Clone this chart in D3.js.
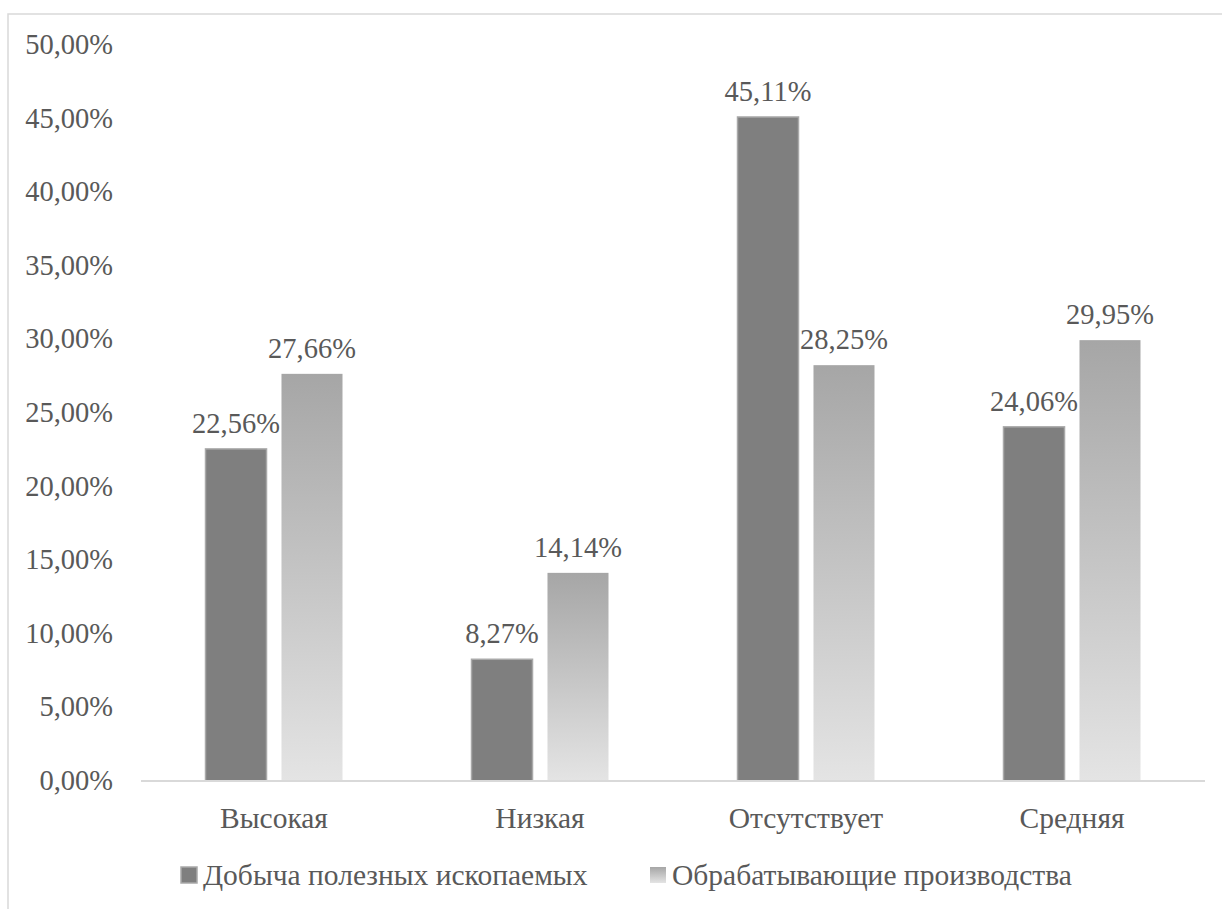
<!DOCTYPE html>
<html>
<head>
<meta charset="utf-8">
<script src="https://cdn.jsdelivr.net/npm/d3@7"></script>
<style>
  html, body { margin: 0; padding: 0; background: #fff; }
  svg { display: block; }
  text { fill: #595959; }
</style>
</head>
<body>
<svg id="chart" width="1222" height="909"></svg>
<script>
// Categories (level of something) and the two series, in percent
const categories = ["Высокая", "Низкая", "Отсутствует", "Средняя"];
const seriesNames = ["Добыча полезных ископаемых", "Обрабатывающие производства"];
const mining = [22.56, 8.27, 45.11, 24.06];
const manufacturing = [27.66, 14.14, 28.25, 29.95];
const yTicks = [0, 5, 10, 15, 20, 25, 30, 35, 40, 45, 50];

const FONT = "'Liberation Serif', 'Times New Roman', Tinos, 'DejaVu Serif', serif";
const FS_NUM = 28.5;   // numeric labels
const FS_TXT = 29.5;   // category names and legend
const fmt = v => v.toFixed(2).replace(".", ",") + "%";

const svg = d3.select("#chart").attr("font-family", FONT);
const W = 1222, H = 909;

// Outer chart frame (extends past the visible canvas on the right and bottom)
svg.append("rect")
  .attr("x", 8).attr("y", 14)
  .attr("width", W + 20).attr("height", H + 20)
  .attr("fill", "none").attr("stroke", "#d9d9d9").attr("stroke-width", 1.5);

// Gradient for the second series
const defs = svg.append("defs");
const grad = defs.append("linearGradient")
  .attr("id", "lightGrad").attr("x1", 0).attr("y1", 0).attr("x2", 0).attr("y2", 1);
grad.append("stop").attr("offset", "0%").attr("stop-color", "#a6a6a6");
grad.append("stop").attr("offset", "100%").attr("stop-color", "#e4e4e4");

const plot = { left: 141, right: 1205, top: 45, bottom: 781 };

const x0 = d3.scaleBand().domain(categories)
  .range([plot.left, plot.right]).paddingInner(0.485).paddingOuter(0.2425);
const x1 = d3.scaleBand().domain(seriesNames)
  .range([0, x0.bandwidth()]).paddingInner(0.197).paddingOuter(0);
const y = d3.scaleLinear().domain([0, 50]).range([plot.bottom, plot.top]);

// Y tick labels (no gridlines)
svg.append("g").selectAll("text")
  .data(yTicks).join("text")
  .attr("x", 113).attr("y", d => y(d) + 9)
  .attr("text-anchor", "end")
  .attr("font-size", FS_NUM)
  .text(d => fmt(d));

const rows = categories.map((c, i) => ({ cat: c, vals: [mining[i], manufacturing[i]] }));

const groups = svg.append("g").selectAll("g")
  .data(rows).join("g")
  .attr("transform", d => `translate(${x0(d.cat)},0)`);

const bars = groups.selectAll("g.bar")
  .data(d => d.vals.map((v, k) => ({ series: seriesNames[k], k, v })))
  .join("g").attr("class", "bar");

bars.append("rect")
  .attr("x", d => x1(d.series))
  .attr("y", d => y(d.v))
  .attr("width", x1.bandwidth())
  .attr("height", d => y(0) - y(d.v))
  .attr("fill", d => d.k === 0 ? "#7f7f7f" : "url(#lightGrad)")
  .attr("stroke", d => d.k === 0 ? "#a9a9a9" : "none")
  .attr("stroke-width", 1.5);

bars.append("text")
  .attr("x", d => x1(d.series) + x1.bandwidth() / 2)
  .attr("y", d => y(d.v) - 16)
  .attr("text-anchor", "middle")
  .attr("font-size", FS_NUM)
  .text(d => fmt(d.v));

// X axis baseline
svg.append("line")
  .attr("x1", plot.left).attr("x2", plot.right)
  .attr("y1", y(0)).attr("y2", y(0))
  .attr("stroke", "#d9d9d9").attr("stroke-width", 2);

// Category labels
svg.append("g").selectAll("text")
  .data(categories).join("text")
  .attr("x", d => x0(d) + x0.bandwidth() / 2)
  .attr("y", 828)
  .attr("text-anchor", "middle")
  .attr("font-size", FS_TXT)
  .text(d => d);

// Legend
const legendX = [181, 650];
const legend = svg.append("g").selectAll("g")
  .data(seriesNames).join("g")
  .attr("transform", (d, i) => `translate(${legendX[i]},867)`);
legend.append("rect")
  .attr("width", 16).attr("height", 16)
  .attr("fill", (d, i) => i === 0 ? "#7f7f7f" : "url(#lightGrad)")
  .attr("stroke", (d, i) => i === 0 ? "#a9a9a9" : "none")
  .attr("stroke-width", 1.5);
legend.append("text")
  .attr("x", 22).attr("y", 18)
  .attr("font-size", FS_TXT)
  .text(d => d);
</script>
</body>
</html>
